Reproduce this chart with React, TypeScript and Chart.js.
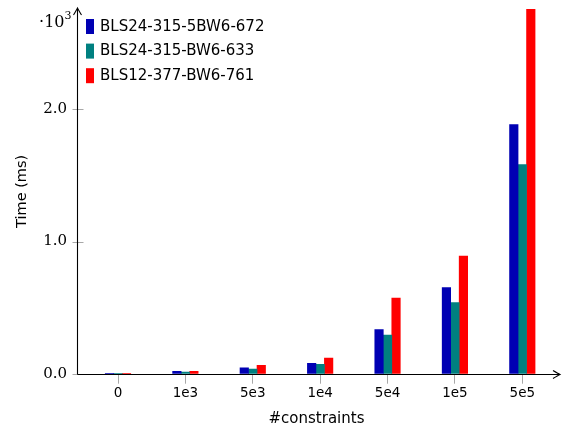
import { useEffect, useRef } from 'react';
import { Chart, registerables } from 'chart.js';

Chart.register(...registerables);

const categories = ['0', '1e3', '5e3', '1e4', '5e4', '1e5', '5e5'];
const seriesNames = ['BLS24-315-5BW6-672', 'BLS24-315-BW6-633', 'BLS12-377-BW6-761'];
const seriesColors = ['#0000B3', '#008080', '#FF0000'];
const bls24_5bw6 = [2, 17, 45, 78, 333, 652, 1886];
const bls24_bw6 = [2, 13, 35, 70, 292, 538, 1583];
const bls12_bw6 = [2, 18, 63, 118, 573, 891, 2760];
const yTicks = [0, 1000, 2000];
const seriesValues = [bls24_5bw6, bls24_bw6, bls12_bw6];

const SANS = '"DejaVu Sans", sans-serif';
const SERIF = '"DejaVu Serif", serif';

const pgfPlugin = {
  id: 'pgfAxes',
  afterDatasetsDraw(chart: any) {
    const { ctx, chartArea, scales } = chart;
    const ys = scales.y;
    const y0 = Math.round(ys.getPixelForValue(0)) + 0.5;
    const xl = Math.round(chartArea.left) + 0.5;
    ctx.save();
    // y tick marks
    ctx.strokeStyle = '#a8a8a8';
    ctx.lineWidth = 1;
    ys.ticks.forEach((t: any) => {
      const py = Math.round(ys.getPixelForValue(t.value)) + 0.5;
      ctx.beginPath();
      ctx.moveTo(xl - 5, py);
      ctx.lineTo(xl + 6, py);
      ctx.stroke();
    });
    // axes
    ctx.strokeStyle = '#000';
    ctx.fillStyle = '#000';
    ctx.lineWidth = 1.1;
    const xEnd = chart.width - 3;
    const yTop = 8;
    ctx.beginPath();
    ctx.moveTo(xl, y0);
    ctx.lineTo(xEnd - 1, y0);
    ctx.stroke();
    ctx.beginPath();
    ctx.moveTo(xl, y0);
    ctx.lineTo(xl, yTop + 1);
    ctx.stroke();
    // arrow heads
    ctx.beginPath();
    ctx.moveTo(xEnd - 7, y0 - 4);
    ctx.quadraticCurveTo(xEnd - 2, y0 - 1, xEnd, y0);
    ctx.quadraticCurveTo(xEnd - 2, y0 + 1, xEnd - 7, y0 + 4);
    ctx.stroke();
    ctx.beginPath();
    ctx.moveTo(xl - 4, yTop + 7);
    ctx.quadraticCurveTo(xl - 1, yTop + 2, xl, yTop);
    ctx.quadraticCurveTo(xl + 1, yTop + 2, xl + 4, yTop + 7);
    ctx.stroke();
    // scale factor label
    ctx.fillStyle = '#000';
    ctx.textBaseline = 'alphabetic';
    ctx.textAlign = 'right';
    ctx.font = '16px ' + SERIF;
    ctx.fillText('·10', xl - 13, 27);
    ctx.textAlign = 'left';
    ctx.font = '11px ' + SERIF;
    ctx.fillText('3', xl - 13, 19);
    // legend
    ctx.font = '15px ' + SANS;
    ctx.textBaseline = 'middle';
    chart.data.datasets.forEach((ds: any, i: number) => {
      const cy = 26.5 + i * 24.6;
      ctx.fillStyle = ds.backgroundColor;
      ctx.fillRect(xl + 8.5, cy - 7.5, 8, 15);
      ctx.fillStyle = '#000';
      ctx.fillText(ds.label, xl + 22.5, cy + 0.5);
    });
    ctx.restore();
  },
};

export default function App() {
  const ref = useRef<HTMLCanvasElement | null>(null);
  useEffect(() => {
    document.body.style.margin = '0';
    const canvas = ref.current;
    if (!canvas) return;
    const chart = new Chart(canvas, {
      type: 'bar',
      data: {
        datasets: seriesNames.map((name, si) => ({
          label: name,
          data: seriesValues[si].map((v, i) => ({ x: i, y: v })),
          backgroundColor: seriesColors[si],
          borderWidth: 0,
          barThickness: 8.5,
        })),
      },
      options: {
        animation: false,
        responsive: false,
        maintainAspectRatio: false,
        layout: { padding: { left: 0, right: 7, top: 9, bottom: 0 } },
        plugins: { legend: { display: false }, tooltip: { enabled: false } },
        scales: {
          x: {
            type: 'linear',
            offset: false,
            min: -0.6085,
            max: 6.5,
            afterBuildTicks: (scale: any) => {
              scale.ticks = categories.map((_, i) => ({ value: i }));
            },
            afterFit: (scale: any) => {
              scale.height = 55.3;
              scale.paddingLeft = 0;
              scale.paddingRight = 0;
            },
            ticks: {
              autoSkip: false,
              maxRotation: 0,
              padding: 2,
              color: '#000',
              font: { family: SANS, size: 13.5 },
              callback: (v: any) => categories[v as number] ?? '',
            },
            grid: {
              display: true,
              offset: false,
              drawOnChartArea: false,
              drawTicks: true,
              tickLength: 10,
              color: '#a8a8a8',
            },
            border: { display: false },
            title: {
              display: true,
              text: '#constraints',
              color: '#000',
              font: { family: SANS, size: 15 },
              padding: { top: 4, bottom: 1 },
            },
          },
          y: {
            type: 'linear',
            min: 0,
            max: 2760,
            afterBuildTicks: (scale: any) => {
              scale.ticks = yTicks.map((v) => ({ value: v }));
            },
            afterFit: (scale: any) => {
              scale.width = 77;
              scale.paddingTop = 0;
              scale.paddingBottom = 0;
            },
            ticks: {
              padding: 10,
              color: '#000',
              font: { family: SERIF, size: 15 },
              callback: (v: any) => (Number(v) / 1000).toFixed(1),
            },
            grid: { display: false, drawTicks: false },
            border: { display: false },
            title: {
              display: true,
              text: 'Time (ms)',
              color: '#000',
              font: { family: SANS, size: 14.5 },
              padding: { top: 14, bottom: 0 },
            },
          },
        },
      },
      plugins: [pgfPlugin],
    });
    return () => chart.destroy();
  }, []);
  return (
    <div style={{ position: 'absolute', left: 0, top: 0, width: 563, height: 429 }}>
      <canvas ref={ref} width={563} height={429} style={{ display: 'block' }} />
    </div>
  );
}
